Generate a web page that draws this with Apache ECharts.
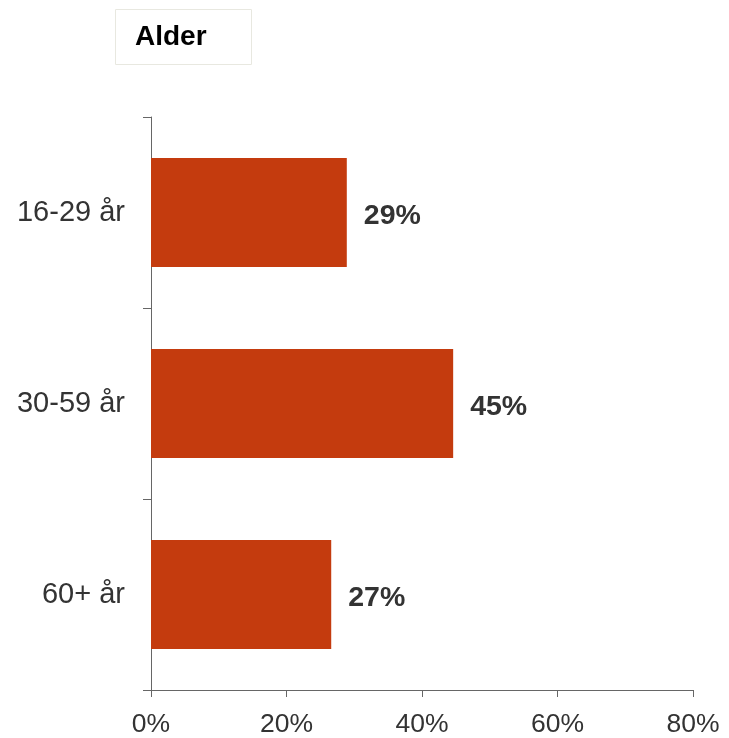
<!DOCTYPE html>
<html><head><meta charset="utf-8">
<script src="https://cdn.jsdelivr.net/npm/echarts@6/dist/echarts.min.js"></script>
<style>html,body{margin:0;padding:0;background:#fff}#c{width:729px;height:738px}</style>
</head><body><div id="c"></div>
<script>
const categories = ['16-29 år', '30-59 år', '60+ år'];
const values = [28.9, 44.6, 26.6];
const labels = ['29%', '45%', '27%'];
const xTicks = [0, 20, 40, 60, 80];

const chart = echarts.init(document.getElementById('c'), null, {renderer: 'canvas'});
const font = 'Arial';
chart.setOption({
  animation: false,
  textStyle: {fontFamily: font},
  title: {
    text: 'Alder', left: 115, top: 9,
    padding: [14, 45, 14, 20],
    borderColor: '#e8e8e0', borderWidth: 1,
    textStyle: {fontFamily: font, fontWeight: 'bold', fontSize: 28, lineHeight: 28, color: '#000'}
  },
  grid: {left: 151, right: 36, top: 117, bottom: 48, containLabel: false},
  xAxis: {
    type: 'value', min: 0, max: 80, interval: 20,
    splitLine: {show: false},
    axisLine: {show: true, lineStyle: {color: '#666', width: 1}},
    axisTick: {show: true, length: 7, lineStyle: {color: '#666'}},
    axisLabel: {fontFamily: font, fontSize: 26.5, color: '#333', margin: 21,
      formatter: v => xTicks.includes(v) ? v + '%' : ''}
  },
  yAxis: {
    type: 'category', data: categories, inverse: true,
    axisLine: {show: true, lineStyle: {color: '#666', width: 1}},
    axisTick: {show: true, length: 8, lineStyle: {color: '#666'}},
    axisLabel: {fontFamily: font, fontSize: 29, color: '#333', margin: 26, padding: [3, 0, 0, 0]}
  },
  series: [{
    type: 'bar', data: values, barWidth: 109,
    itemStyle: {color: '#C43B0E'},
    label: {show: true, position: 'right', distance: 17, offset: [0, 4],
      fontFamily: font, fontWeight: 'bold', fontSize: 28.5, color: '#333',
      formatter: p => labels[p.dataIndex]}
  }]
});
</script></body></html>
